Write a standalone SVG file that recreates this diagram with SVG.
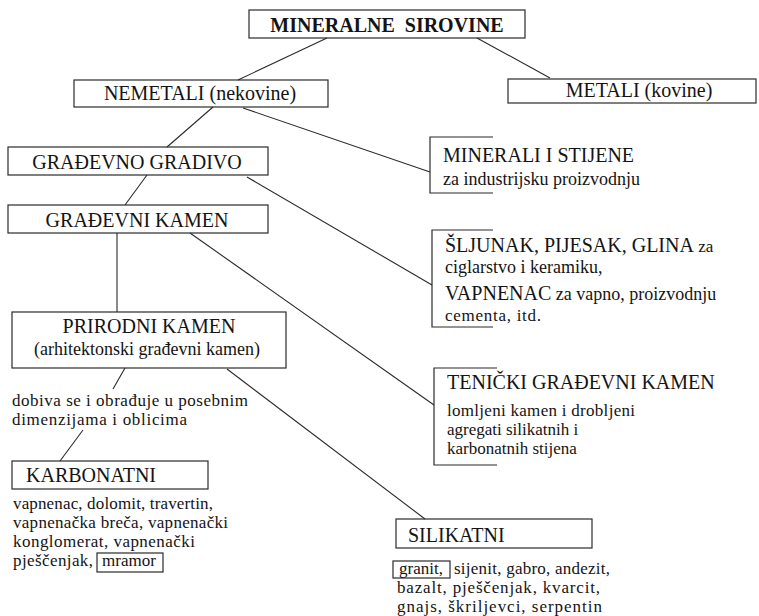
<svg xmlns="http://www.w3.org/2000/svg" width="759" height="616" viewBox="0 0 759 616">
<style>
.bg{fill:#ffffff}
.box{fill:none;stroke:#2a2a2a;stroke-width:1.2}
.ln{fill:none;stroke:#2a2a2a;stroke-width:1.1}
text{font-family:"Liberation Serif","Times New Roman",serif;fill:#141414}
.h{font-size:20px}
.b{font-size:18px}
.s{font-size:17px}
.t{font-size:20px;font-weight:bold}
</style>
<rect class="bg" x="0" y="0" width="759" height="616"/>
<g id="connectors">
<line class="ln" x1="327" y1="38" x2="238" y2="80"/>
<line class="ln" x1="477" y1="38" x2="550" y2="78"/>
<line class="ln" x1="213" y1="107" x2="167" y2="147"/>
<line class="ln" x1="243" y1="108" x2="430" y2="172"/>
<line class="ln" x1="147" y1="175" x2="125" y2="205"/>
<line class="ln" x1="247" y1="177" x2="432" y2="285"/>
<line class="ln" x1="117" y1="233" x2="117" y2="312"/>
<line class="ln" x1="190" y1="233" x2="434" y2="405"/>
<line class="ln" x1="125" y1="368" x2="113" y2="389"/>
<line class="ln" x1="227" y1="369" x2="425" y2="519"/>
<line class="ln" x1="83" y1="430" x2="60" y2="461"/>
</g>
<g id="mineralne-sirovine">
<rect class="box" x="249" y="10" width="276" height="28"/>
<text class="t" x="387" y="32" text-anchor="middle">MINERALNE&#160; SIROVINE</text>
</g>
<g id="nemetali">
<rect class="box" x="74" y="80" width="254" height="27"/>
<text class="h" x="200" y="100" text-anchor="middle">NEMETALI (nekovine)</text>
</g>
<g id="metali">
<rect class="box" x="508" y="79" width="248" height="24"/>
<text class="h" x="639" y="97" text-anchor="middle">METALI (kovine)</text>
</g>
<g id="gradevno-gradivo">
<rect class="box" x="8" y="147" width="260" height="28"/>
<text class="h" x="137" y="169" text-anchor="middle">GRAĐEVNO GRADIVO</text>
</g>
<g id="gradevni-kamen">
<rect class="box" x="8" y="205" width="260" height="28"/>
<text class="h" x="137" y="227" text-anchor="middle">GRAĐEVNI KAMEN</text>
</g>
<g id="minerali-i-stijene">
<path class="box" d="M493,137 H430 V193 H493"/>
<text class="h" x="443" y="162">MINERALI I STIJENE</text>
<text class="b" x="443" y="185">za industrijsku proizvodnju</text>
</g>
<g id="sljunak">
<path class="box" d="M493,230 H432 V327 H493"/>
<text x="445" y="252"><tspan class="h">ŠLJUNAK, PIJESAK, GLINA</tspan><tspan class="s"> za</tspan></text>
<text class="b" x="445" y="273">ciglarstvo i keramiku,</text>
<text x="445" y="300"><tspan class="h">VAPNENAC</tspan><tspan class="b"> za vapno, proizvodnju</tspan></text>
<text class="s" x="445" y="321" textLength="96">cementa, itd.</text>
</g>
<g id="prirodni-kamen">
<rect class="box" x="12" y="312" width="274" height="56"/>
<text class="h" x="149" y="333" text-anchor="middle">PRIRODNI KAMEN</text>
<text class="b" x="147" y="355" text-anchor="middle">(arhitektonski građevni kamen)</text>
</g>
<g id="dobiva">
<text class="s" x="12" y="406" textLength="236">dobiva se i obrađuje u posebnim</text>
<text class="s" x="12" y="425" textLength="175">dimenzijama i oblicima</text>
</g>
<g id="tehnicki-kamen">
<path class="box" d="M497,368 H434 V465 H497"/>
<text class="h" x="447" y="389">TENIČKI GRAĐEVNI KAMEN</text>
<text class="s" x="447" y="416" textLength="188">lomljeni kamen i drobljeni</text>
<text class="s" x="447" y="435">agregati silikatnih i</text>
<text class="s" x="447" y="454">karbonatnih stijena</text>
</g>
<g id="karbonatni">
<rect class="box" x="12" y="461" width="196" height="28"/>
<text class="h" x="26" y="482">KARBONATNI</text>
<text class="s" x="13" y="509" textLength="200">vapnenac, dolomit, travertin,</text>
<text class="s" x="13" y="528" textLength="215">vapnenačka breča, vapnenački</text>
<text class="s" x="13" y="547" textLength="182">konglomerat, vapnenački</text>
<text class="s" x="13" y="566" textLength="80">pješčenjak,</text>
<rect class="box" x="97" y="553" width="66" height="19"/>
<text class="s" x="102" y="566">mramor</text>
</g>
<g id="silikatni">
<rect class="box" x="396" y="519" width="196" height="29"/>
<text class="h" x="408" y="542">SILIKATNI</text>
<rect class="box" x="393" y="561" width="57" height="17"/>
<text class="s" x="399" y="574">granit,</text>
<text class="s" x="454" y="574" textLength="156">sijenit, gabro, andezit,</text>
<text class="s" x="397" y="593" textLength="203">bazalt, pješčenjak, kvarcit,</text>
<text class="s" x="397" y="612" textLength="205">gnajs, škriljevci, serpentin</text>
</g>
</svg>
